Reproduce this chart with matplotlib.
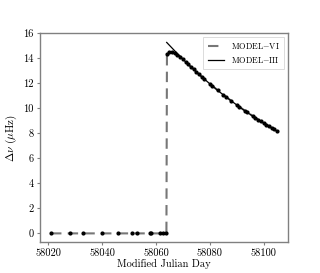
import matplotlib
matplotlib.use("Agg")
import matplotlib.pyplot as plt

plt.rcParams['font.family'] = ['cmr10', 'DejaVu Serif']
plt.rcParams['mathtext.fontset'] = 'cm'
plt.rcParams['axes.formatter.use_mathtext'] = True

# MODEL-VI (observed, dashed with markers)
mjd_vi = [58021.0, 58028.0, 58033.0, 58040.0, 58046.0, 58051.0, 58053.0,
          58057.7, 58058.3, 58061.6, 58062.6, 58063.9,
          58064.1, 58065.0, 58066.0, 58067.0, 58068.0, 58069.0, 58070.0,
          58071.0, 58072.0, 58073.0, 58074.0, 58075.0, 58076.0, 58077.0,
          58078.0, 58080.0, 58081.0, 58083.0, 58085.0, 58086.0, 58088.0,
          58090.0, 58091.0, 58093.0, 58094.0, 58096.0, 58097.0, 58098.0,
          58099.0, 58100.0, 58101.0, 58102.0, 58103.0, 58104.0, 58105.0]
dnu_vi = [0.0, 0.0, 0.0, 0.0, 0.0, 0.0, 0.0,
          0.0, 0.0, 0.0, 0.0, 0.0,
          14.30, 14.45, 14.45, 14.38, 14.25, 14.12, 13.92,
          13.71, 13.50, 13.30, 13.10, 12.90, 12.71, 12.52,
          12.33, 11.96, 11.78, 11.42, 11.08, 10.91, 10.59,
          10.27, 10.12, 9.81, 9.67, 9.38, 9.23, 9.09,
          8.96, 8.82, 8.69, 8.56, 8.43, 8.30, 8.16]

# MODEL-III (fit, solid)
mjd_iii = [58064.0, 58066.0, 58068.0, 58070.0, 58072.0, 58076.0, 58080.0,
           58084.0, 58088.0, 58092.0, 58096.0, 58100.0, 58105.0]
dnu_iii = [15.25, 14.80, 14.35, 13.92, 13.50, 12.70, 11.95,
           11.24, 10.58, 9.95, 9.36, 8.81, 8.16]

xticks = [58020, 58040, 58060, 58080, 58100]
yticks = [0, 2, 4, 6, 8, 10, 12, 14, 16]

fig = plt.figure(figsize=(3.2, 2.73), dpi=100)
ax = fig.add_axes([0.125, 0.113, 0.775, 0.766])

ax.plot(mjd_vi, dnu_vi, ls='--', color='#777777', lw=1.5, dashes=(5, 3),
        label=r'MODEL$-$VI', zorder=2)
ax.plot(mjd_vi, dnu_vi, ls='none', marker='o', ms=2.0, color='black', zorder=3)
ax.plot(mjd_iii, dnu_iii, ls='-', color='black', lw=0.9,
        label=r'MODEL$-$III', zorder=4)

ax.set_xlim(58016.9, 58109.1)
ax.set_ylim(-0.7, 16.0)
ax.set_xticks(xticks)
ax.set_yticks(yticks)
ax.set_xticklabels([str(v) for v in xticks])
ax.set_yticklabels([str(v) for v in yticks])
ax.tick_params(labelsize=7.5, length=2.5, width=0.8, color='#808080', pad=2)

for s in ax.spines.values():
    s.set_color('#808080')
    s.set_linewidth(1.0)

ax.set_xlabel('Modified Julian Day', fontsize=7.5, labelpad=1)
ax.set_ylabel(r'$\Delta\nu$ $(\mu{\rm Hz})$', fontsize=8, labelpad=3)

leg = ax.legend(loc='upper right', fontsize=6, frameon=True, fancybox=False,
                handlelength=2.0, borderpad=0.5, labelspacing=0.4)
leg.get_frame().set_edgecolor('#cccccc')
leg.get_frame().set_linewidth(0.6)

fig.savefig('out.png', dpi=100, facecolor='white')
